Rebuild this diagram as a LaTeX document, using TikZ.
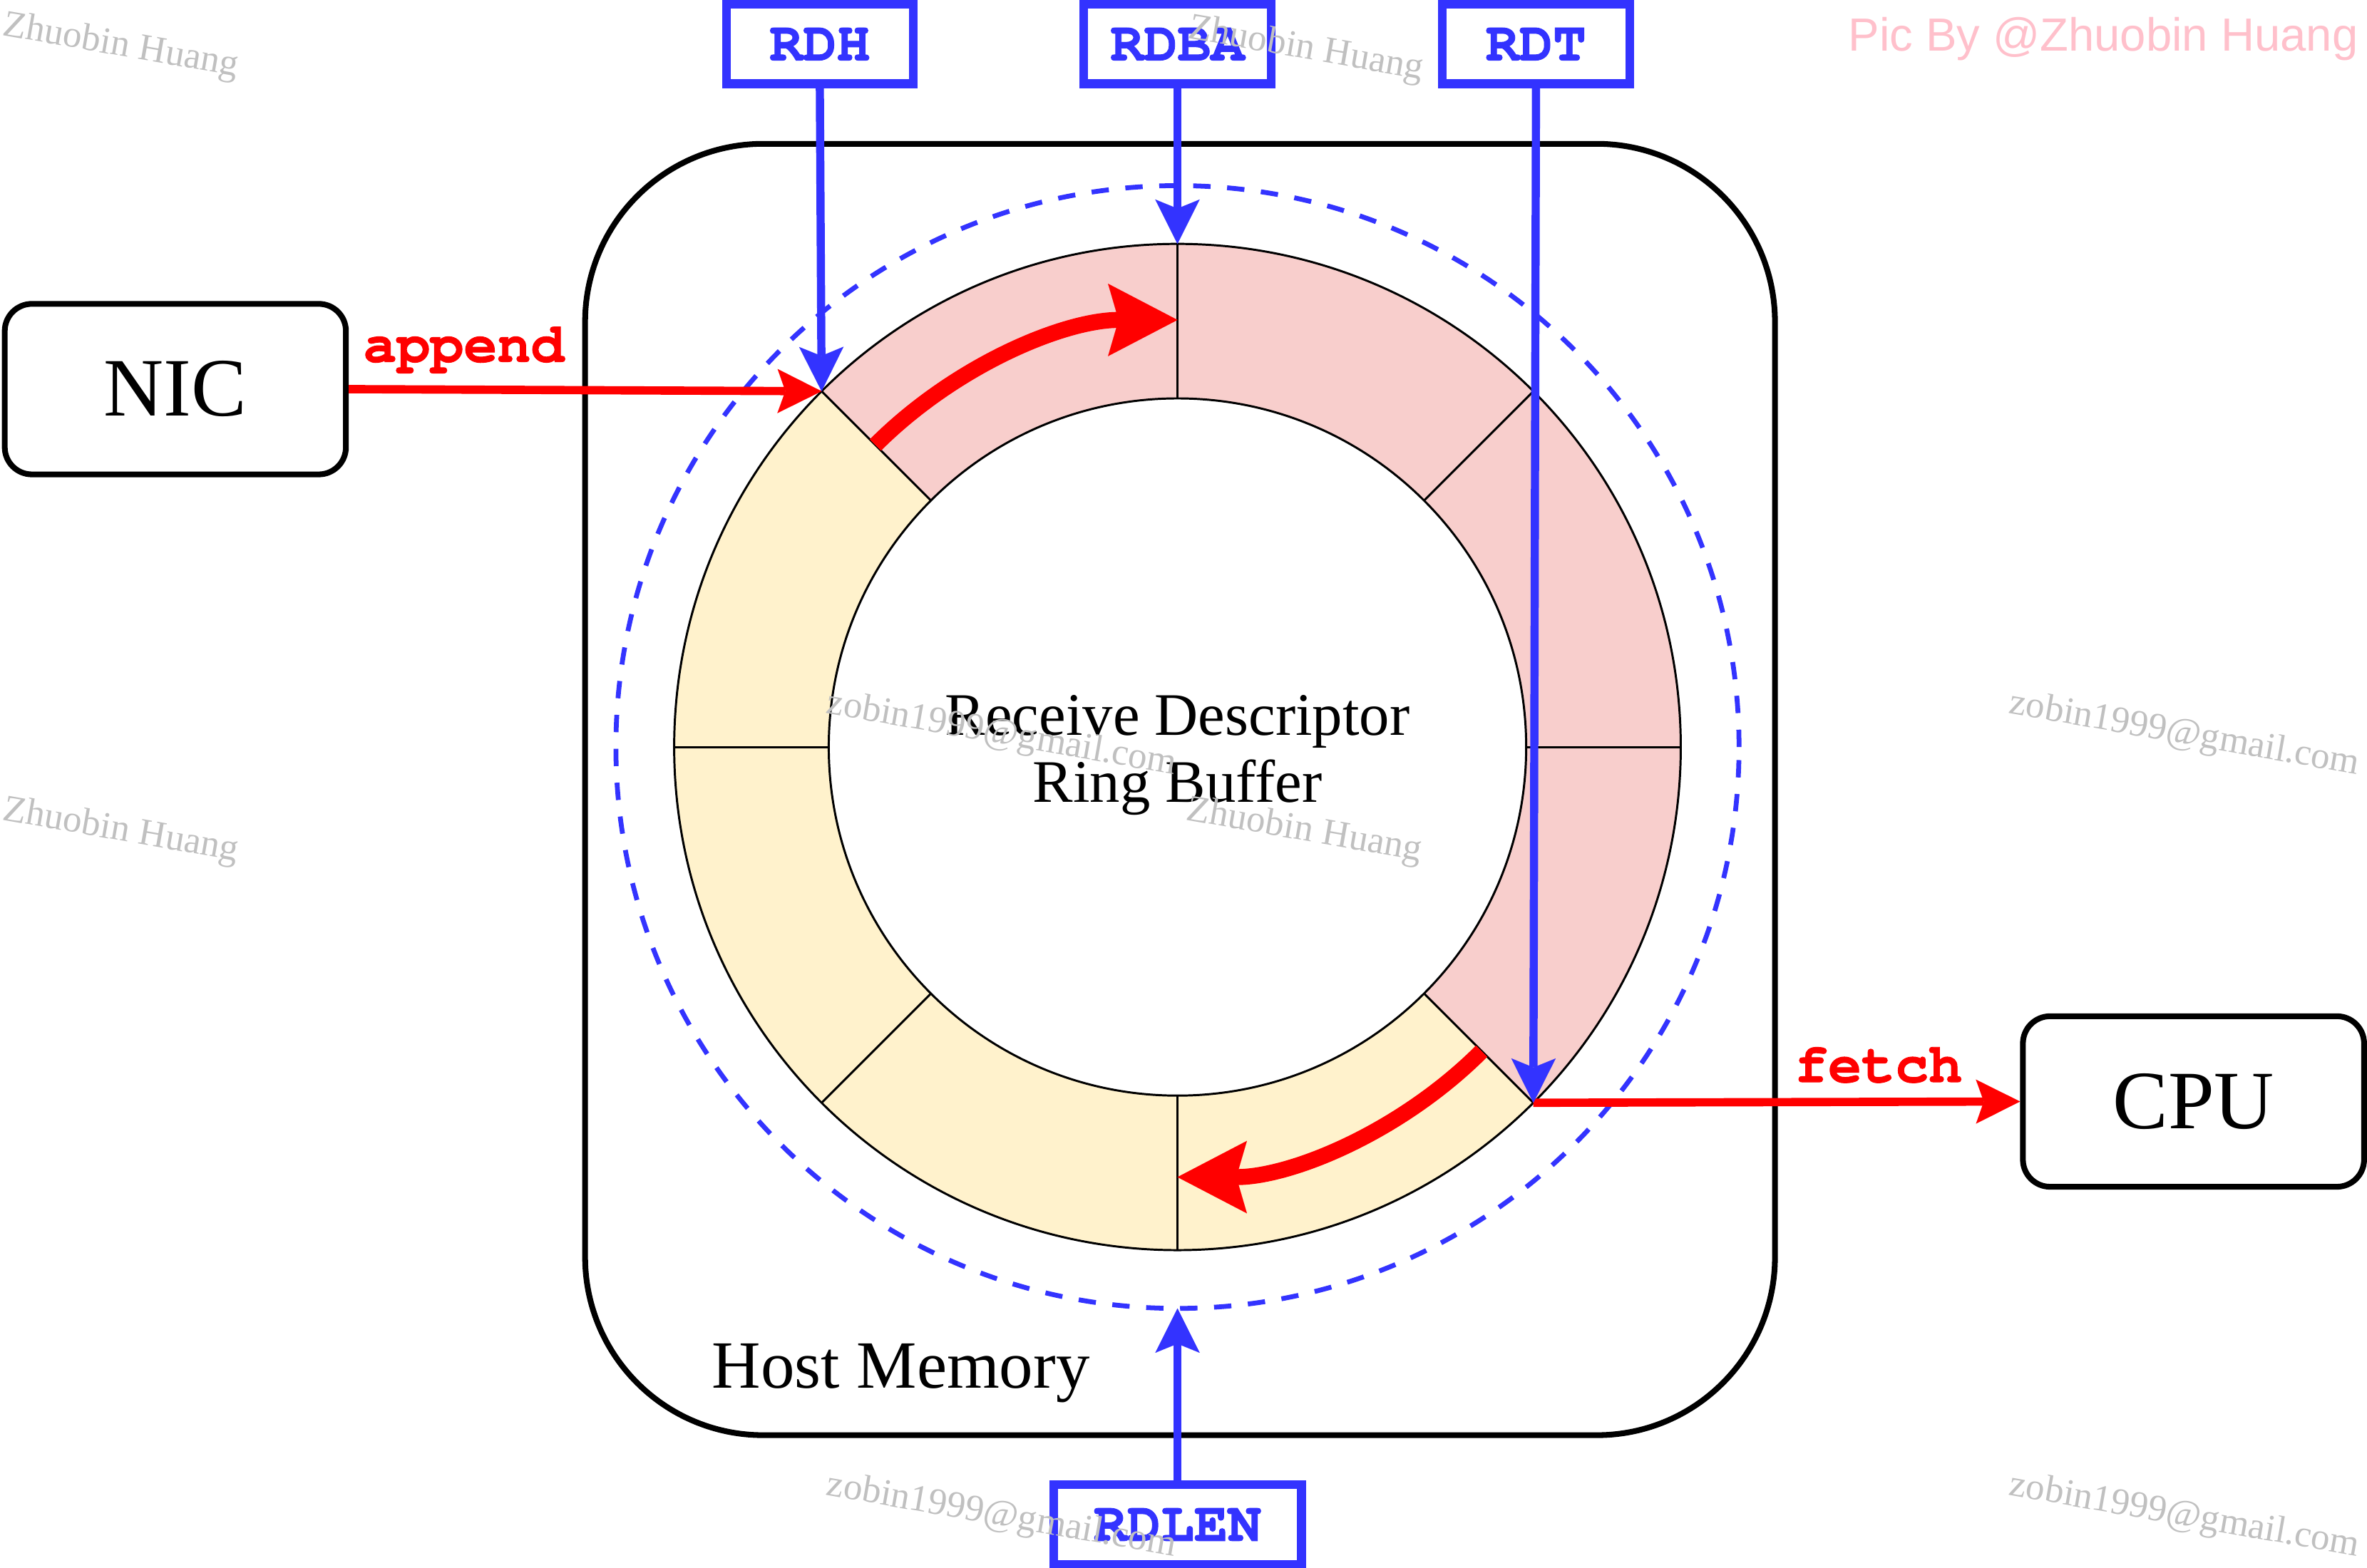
\documentclass[tikz,border=0pt]{standalone}
\usepackage{fontspec}
\setmainfont{Liberation Serif}
\newfontfamily\lmono[BoldFeatures={FakeBold=1.2}]{TeX Gyre Cursor}
\newfontfamily\lsans{Liberation Sans}
\usetikzlibrary{arrows.meta}
\definecolor{rdblue}{HTML}{3333FF}
\definecolor{rdred}{HTML}{FF0000}
\definecolor{pinkfill}{HTML}{F8CECC}
\definecolor{yelfill}{HTML}{FFF2CC}
\definecolor{wmgray}{HTML}{C0C0C0}
\definecolor{picpink}{HTML}{FFC0CB}
\begin{document}
\begin{tikzpicture}[x=0.5pt,y=-0.5pt,
  regbox/.style={draw=rdblue, line width=2.9pt, fill=white, minimum width=62pt, minimum height=26.3pt,
    inner sep=0pt, font=\lmono\bfseries\fontsize{18.5}{20}\selectfont, text=rdblue},
  hostbox/.style={draw, line width=1.9pt, rounded corners=9pt, fill=white, minimum width=113pt,
    minimum height=56.5pt, inner sep=0pt, font=\fontsize{27.5}{30}\selectfont},
  ptr/.style={draw=rdblue, line width=2.7pt, -{Stealth[length=14.7pt,width=14.7pt,inset=3pt,line width=0.01pt]}},
  flow/.style={draw=rdred, line width=2.75pt, -{Stealth[length=14.6pt,width=14.6pt,inset=2.6pt,line width=0.01pt]}},
  bigflow/.style={draw=rdred, line width=5.3pt, -{Stealth[length=23pt,width=24pt,inset=3.5pt,line width=0.01pt]}},
  lbl/.style={text=rdred, font=\lmono\bfseries\fontsize{18.5}{20}\selectfont, inner sep=0pt, anchor=base},
  wm/.style={text=wmgray, font=\fontsize{12.5}{14}\selectfont, rotate=-10, inner sep=0pt},
  ringline/.style={draw=black, line width=0.7pt},
]
\useasboundingbox (0,0) rectangle (1568,1039);

% Host memory container
\node[draw, line width=1.9pt, rounded corners=59pt, minimum width=394.1pt, minimum height=427.85pt, inner sep=0pt]
  (host) at (781.7,523.15) {};
\node[anchor=base, font=\fontsize{22.4}{26}\selectfont, inner sep=0pt] (hostlbl) at (596.8,919.9) {Host Memory};

% ring buffer
\begin{scope}[shift={(780,495)}, yscale=-1]
  \draw[rdblue, line width=1.6pt, dash pattern=on 5.75pt off 5.5pt] (0,0) circle[radius=372];
  \foreach \a in {90,45,0,-45}
    \fill[pinkfill] (\a:231) -- (\a:333.4) arc[start angle=\a, delta angle=45, radius=333.4]
      -- ({\a+45}:231) arc[start angle=\a+45, delta angle=-45, radius=231] -- cycle;
  \foreach \a in {-90,-135,-180,135}
    \fill[yelfill] (\a:231) -- (\a:333.4) arc[start angle=\a, delta angle=45, radius=333.4]
      -- ({\a+45}:231) arc[start angle=\a+45, delta angle=-45, radius=231] -- cycle;
  \draw[ringline] (0,0) circle[radius=333.4];
  \draw[ringline] (0,0) circle[radius=231];
  \foreach \a in {0,45,...,315}
    \draw[ringline] (\a:231) -- (\a:333.4);
  \coordinate (ringTL) at (135:333.4);
  \coordinate (ringTop) at (90:333.4);
  \coordinate (ringBR) at (-45:333.4);
  \coordinate (dashBot) at (-90:372);
  \coordinate (c1s) at (135:283);
  \coordinate (c2s) at (-45:285);
  \draw[bigflow] (c1s) arc[start angle=135, end angle=90, radius=283];
  \draw[bigflow] (c2s) arc[start angle=-45, end angle=-90, radius=285];
\end{scope}

\node[align=center, font=\fontsize{20}{22.4}\selectfont, inner sep=0pt] (rtext) at (780,500.4)
  {Receive Descriptor\\Ring Buffer};

% NIC and CPU
\node[hostbox] (nic) at (116.15,257.85) {NIC};
\node[hostbox] (cpu) at (1453.05,729.9) {CPU};

% register boxes
\node[regbox] (rdh) at (543.1,29.2) {RDH};
\node[regbox] (rdba) at (780,29.2) {RDBA};
\node[regbox] (rdt) at (1017.5,29.2) {RDT};
\node[regbox, minimum width=82.1pt] (rdlen) at (780,1010.2) {RDLEN};

% connectors
\draw[flow] (nic.east) -- (ringTL);
\draw[flow] (ringBR) -- (cpu.west);
\draw[ptr] (rdh.south) -- (ringTL);
\draw[ptr] (rdba.south) -- (ringTop);
\draw[ptr] (rdt.south) -- (ringBR);
\draw[ptr] (rdlen.north) -- (dashBot);

\node[lbl] (append) at (307.2,239.7) {append};
\node[lbl] (fetch) at (1244.3,717) {fetch};

% watermarks
\node[anchor=base west, text=picpink, font=\lsans\fontsize{15.4}{18}\selectfont, inner sep=0pt] (pic) at (1224,33.7)
  {Pic By @Zhuobin Huang};
\node[wm] (wm1) at (80,31) {Zhuobin Huang};
\node[wm] (wm2) at (865,33) {Zhuobin Huang};
\node[wm] (wm3) at (80,551) {Zhuobin Huang};
\node[wm] (wm4) at (864,551) {Zhuobin Huang};
\node[wm] (wm5) at (663.5,487) {zobin1999@gmail.com};
\node[wm] (wm6) at (1447,487) {zobin1999@gmail.com};
\node[wm] (wm7) at (663.5,1005) {zobin1999@gmail.com};
\node[wm] (wm8) at (1447,1005) {zobin1999@gmail.com};
\end{tikzpicture}
\end{document}
